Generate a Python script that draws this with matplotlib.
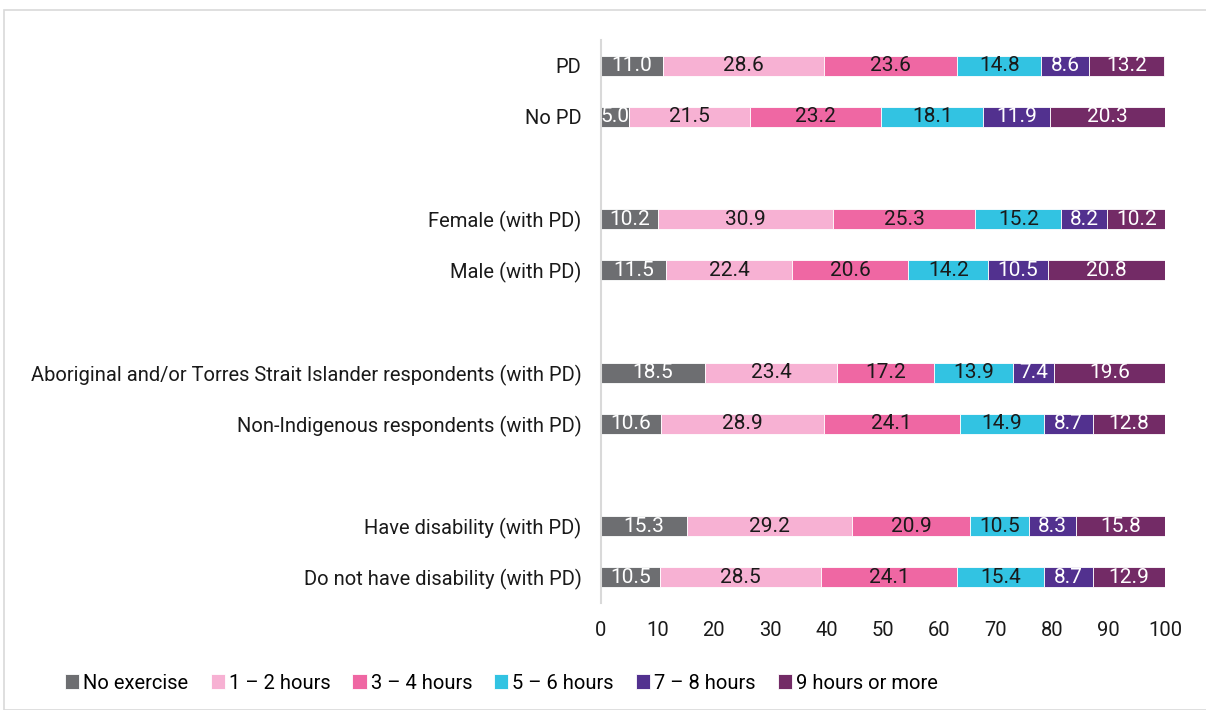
import numpy as np
import matplotlib.pyplot as plt
from matplotlib.patches import Rectangle

# Dados do gráfico (percentagens)
categories = ['PD', 'No PD',
              'Female (with PD)', 'Male (with PD)',
              'Aboriginal and/or Torres Strait Islander respondents (with PD)',
              'Non-Indigenous respondents (with PD)',
              'Have disability (with PD)', 'Do not have disability (with PD)']
positions = [0, 1, 3, 4, 6, 7, 9, 10]

series_names = ['No exercise', '1 – 2 hours', '3 – 4 hours',
                '5 – 6 hours', '7 – 8 hours', '9 hours or more']
no_exercise = [11.0, 5.0, 10.2, 11.5, 18.5, 10.6, 15.3, 10.5]
h1_2 = [28.6, 21.5, 30.9, 22.4, 23.4, 28.9, 29.2, 28.5]
h3_4 = [23.6, 23.2, 25.3, 20.6, 17.2, 24.1, 20.9, 24.1]
h5_6 = [14.8, 18.1, 15.2, 14.2, 13.9, 14.9, 10.5, 15.4]
h7_8 = [8.6, 11.9, 8.2, 10.5, 7.4, 8.7, 8.3, 8.7]
h9_plus = [13.2, 20.3, 10.2, 20.8, 19.6, 12.8, 15.8, 12.9]

colors = ['#6d6e71', '#f7b1d3', '#ef67a3', '#32c3e2', '#52318f', '#732b66']
text_colors = ['white', '#1a1a1a', '#1a1a1a', '#1a1a1a', 'white', 'white']

plt.rcParams['font.family'] = ['Roboto', 'DejaVu Sans']

fig = plt.figure(figsize=(12.06, 7.10), dpi=100)
ax = fig.add_axes([0.4983, 0.1507, 0.4677, 0.7930])

# Moldura clara em volta
fig.patches.append(Rectangle((4/1206, 0), 1.2, 1 - 10/710, transform=fig.transFigure,
                             fill=False, edgecolor='#d9d9d9', linewidth=1.2))

data = [no_exercise, h1_2, h3_4, h5_6, h7_8, h9_plus]
left = np.zeros(len(categories))
for vals, name, c, tc in zip(data, series_names, colors, text_colors):
    vals = np.array(vals)
    ax.barh(positions, vals, left=left, height=0.39, color=c, edgecolor='white',
            linewidth=0.6, label=name)
    for p, l, v in zip(positions, left, vals):
        ax.text(l + v / 2, p, f'{v:.1f}', ha='center', va='center',
                color=tc, fontsize=15)
    left += vals

ax.set_xlim(0, 100)
ax.set_ylim(10.5, -0.5)
ax.set_xticks(np.arange(0, 101, 10))
ax.set_yticks(positions)
ax.set_yticklabels(categories)
ax.tick_params(axis='both', length=0, labelsize=14.5, colors='#1a1a1a')
ax.tick_params(axis='y', pad=14)
ax.tick_params(axis='x', pad=13)
for s in ['top', 'right', 'bottom']:
    ax.spines[s].set_visible(False)
ax.spines['left'].set_color('#d9d9d9')
ax.spines['left'].set_linewidth(1.5)

fig.legend(loc='center left', bbox_to_anchor=(0.039, 0.038), ncol=6, frameon=False,
           fontsize=14.5, handlelength=0.7, handleheight=0.7, handletextpad=0.2,
           columnspacing=1.1)

fig.savefig('out.png', dpi=100)
